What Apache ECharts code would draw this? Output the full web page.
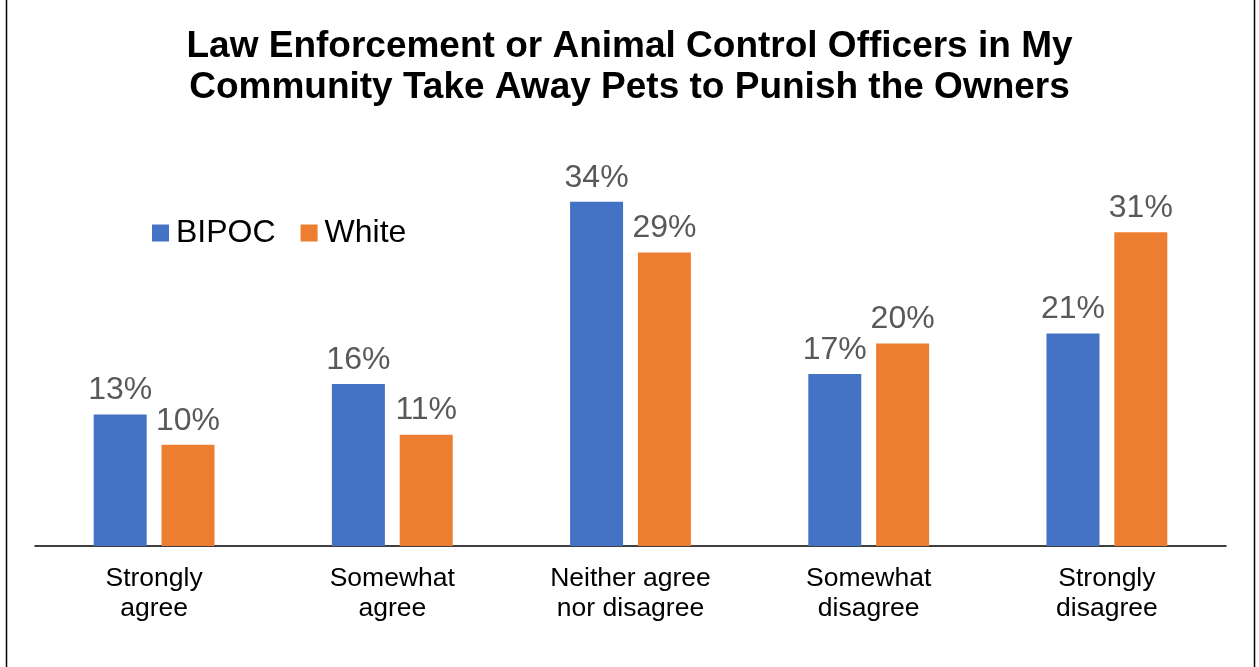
<!DOCTYPE html>
<html>
<head>
<meta charset="utf-8">
<script src="https://cdn.jsdelivr.net/npm/echarts@6/dist/echarts.min.js"></script>
<style>
  html, body { margin: 0; padding: 0; background: #fff; }
  #chart { width: 1259px; height: 667px; }
</style>
</head>
<body>
<div id="chart"></div>
<script>
// Survey responses by group (percent of respondents)
const categories = ['Strongly\nagree', 'Somewhat\nagree', 'Neither agree\nnor disagree', 'Somewhat\ndisagree', 'Strongly\ndisagree'];
const bipocValues = [13, 16, 34, 17, 21];
const whiteValues = [10, 11, 29, 20, 31];
const seriesNames = ['BIPOC', 'White'];
const titleText = 'Law Enforcement or Animal Control Officers in My\nCommunity Take Away Pets to Punish the Owners';

const FONT = '"Liberation Sans", Arial, sans-serif';

const chart = echarts.init(document.getElementById('chart'), null, { renderer: 'canvas' });

const valueLabel = {
  show: true,
  position: 'top',
  distance: 8,
  formatter: p => p.value + '%',
  color: '#595959',
  fontFamily: FONT,
  fontSize: 32
};

chart.setOption({
  backgroundColor: '#ffffff',
  animation: false,
  title: {
    text: titleText,
    left: 'center',
    top: 21,
    textStyle: {
      fontFamily: FONT,
      fontWeight: 'bold',
      fontSize: 37,
      lineHeight: 41,
      color: '#000000'
    }
  },
  legend: {
    data: seriesNames,
    left: 147,
    top: 212,
    icon: 'rect',
    itemWidth: 17,
    itemHeight: 17,
    itemGap: 25,
    textStyle: {
      fontFamily: FONT,
      fontSize: 32,
      lineHeight: 32,
      color: '#000000',
      padding: [0, 0, 0, 2]
    }
  },
  grid: {
    left: 35,
    right: 33,
    top: 141,
    bottom: 121,
    containLabel: false
  },
  xAxis: {
    type: 'category',
    data: categories,
    axisLine: { show: true, lineStyle: { color: '#000000', width: 1.5 } },
    axisTick: { show: false },
    axisLabel: {
      interval: 0,
      margin: 18,
      fontFamily: FONT,
      fontSize: 26.5,
      lineHeight: 30,
      color: '#000000'
    }
  },
  yAxis: {
    type: 'value',
    min: 0,
    max: 40,
    show: false,
    splitLine: { show: false }
  },
  series: [
    {
      name: seriesNames[0],
      type: 'bar',
      data: bipocValues,
      barWidth: 53,
      barGap: '28%',
      itemStyle: { color: '#4472C4' },
      label: valueLabel
    },
    {
      name: seriesNames[1],
      type: 'bar',
      data: whiteValues,
      barWidth: 53,
      itemStyle: { color: '#ED7D31' },
      label: valueLabel
    }
  ],
  graphic: [
    {
      type: 'rect',
      silent: true,
      shape: { x: 6.5, y: -10, width: 1248, height: 700 },
      style: { fill: 'none', stroke: '#000000', lineWidth: 1.5 }
    }
  ]
});
</script>
</body>
</html>
